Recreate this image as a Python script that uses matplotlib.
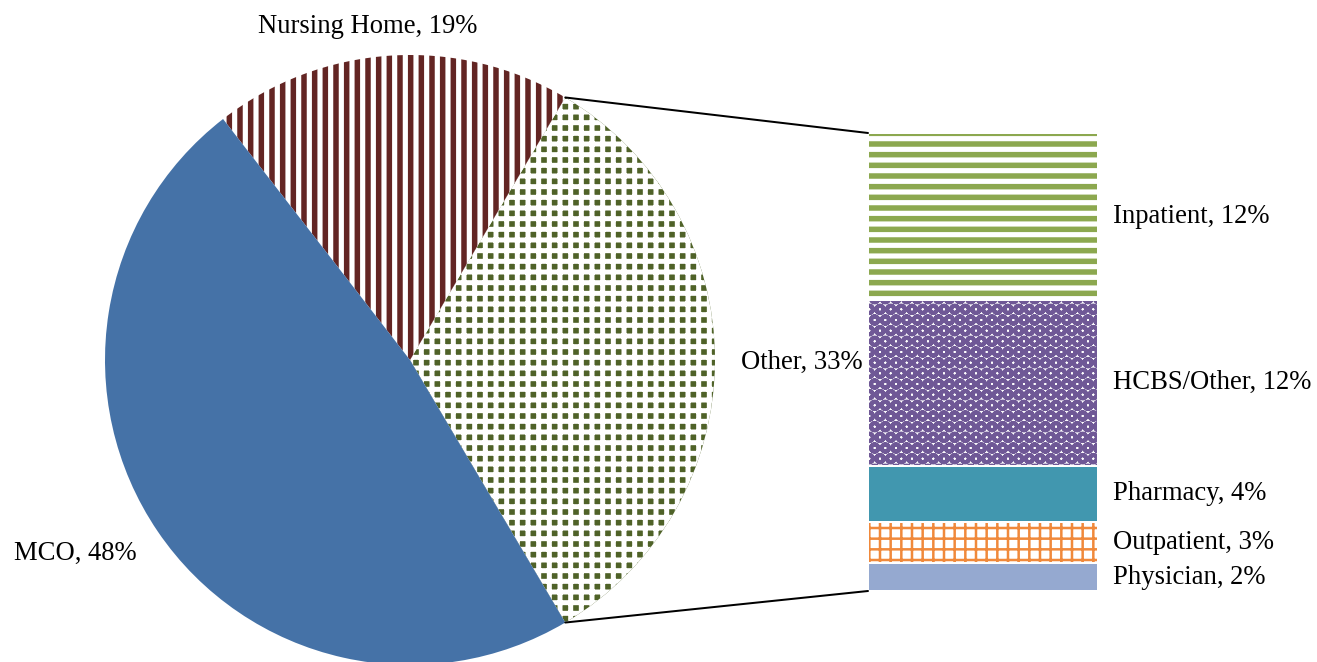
import numpy as np
import matplotlib
matplotlib.use("Agg")
import matplotlib.pyplot as plt
from matplotlib.patches import ConnectionPatch

plt.rcParams['font.family'] = ['Liberation Serif', 'DejaVu Serif']

# pie data (counterclockwise from the split)
pie_labels = ['Other', 'Nursing Home', 'MCO']
pie_values = [33, 19, 48]

# breakdown of "Other", bottom to top
bar_labels = ['Physician', 'Outpatient', 'Pharmacy', 'HCBS/Other', 'Inpatient']
bar_values = [2, 3, 4, 12, 12]

DPI = 64
fig = plt.figure(figsize=(1317 / DPI, 662 / DPI), dpi=DPI)
FS = 30


def px(v):
    # pixels -> points at this dpi
    return v * 72 / DPI


def style(patch, face, hatch_col=None, hatch=None, lw=0):
    patch.set_facecolor(face)
    patch.set_linewidth(0)
    if not hatch:
        return
    patch.set_edgecolor(hatch_col)
    patch.set_hatch(hatch)
    if hasattr(patch, 'set_hatch_linewidth'):
        patch.set_hatch_linewidth(px(lw))
    # hatch width is global in some versions, so set it while drawing
    orig = patch.draw

    def draw(renderer, _orig=orig, _lw=px(lw)):
        with plt.rc_context({'hatch.linewidth': _lw}):
            _orig(renderer)
    patch.draw = draw


# ---- pie ----
ax1 = fig.add_axes([105 / 1317, -3 / 662, 610 / 1317, 610 / 662])
start = -pie_values[0] / 2 * 3.6
wedges, _ = ax1.pie(pie_values, startangle=start, counterclock=True, radius=1,
                    wedgeprops=dict(linewidth=0))
ax1.set_xlim(-1, 1)
ax1.set_ylim(-1, 1)
ax1.axis('off')

style(wedges[0], '#4F6228', 'white', '+', 5)
style(wedges[1], 'white', '#632523', '|', 5.5)
style(wedges[2], '#4572A7')

ax1.text(-0.138, 1.092, 'Nursing Home, 19%', ha='center', va='center', fontsize=FS)
ax1.text(-1.098, -0.633, 'MCO, 48%', ha='center', va='center', fontsize=FS)
ax1.text(1.285, -0.007, 'Other, 33%', ha='center', va='center', fontsize=FS)

# ---- stacked bar ----
ax2 = fig.add_axes([868 / 1317, 71 / 662, 230 / 1317, 458 / 662])
bottoms = np.concatenate([[0], np.cumsum(bar_values)[:-1]])
bars = ax2.bar(0.5, bar_values, width=1, bottom=bottoms, linewidth=0)
ax2.set_xlim(0, 1)
ax2.set_ylim(0, sum(bar_values))
ax2.axis('off')

style(bars[0], '#95A9D0')
style(bars[1], 'white', '#F0893B', '+', 2.5)
style(bars[2], '#4197AF')
style(bars[3], 'white', '#6F5896', 'O', 4)
style(bars[4], 'white', '#8CA84F', '-', 5.5)

ax2.bar(0.5, bar_values, width=1, bottom=bottoms, fill=False,
        edgecolor='white', linewidth=px(2))

for lab, val, b in zip(bar_labels, bar_values, bottoms):
    ax2.text(1.065, b + val / 2, f'{lab}, {val}%', ha='left', va='center',
             fontsize=FS, transform=ax2.get_yaxis_transform())

# ---- connector lines ----
total = sum(bar_values)
for ang, yb in [(start + pie_values[0] * 3.6, total), (start, 0)]:
    a = np.deg2rad(ang)
    con = ConnectionPatch(xyA=(np.cos(a), np.sin(a)), coordsA=ax1.transData,
                          xyB=(0, yb), coordsB=ax2.transData,
                          color='black', linewidth=px(2))
    fig.add_artist(con)

fig.savefig('out.png', dpi=DPI)
